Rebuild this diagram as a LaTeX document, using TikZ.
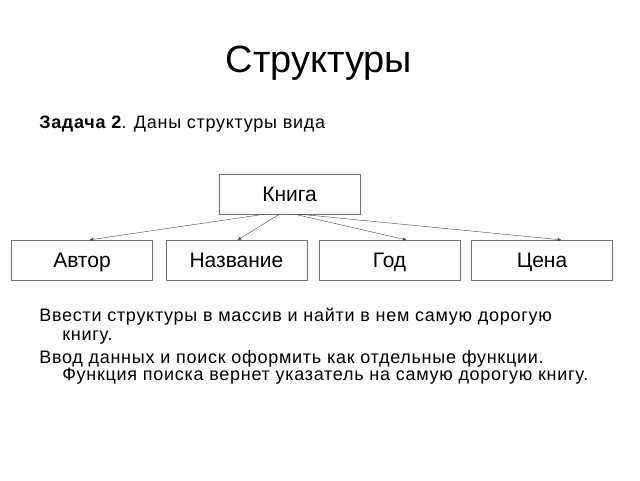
\documentclass[tikz,border=0pt]{standalone}
\usepackage{fontspec}
\setmainfont{Liberation Sans}
\newfontfamily\bodyfont[LetterSpace=4]{Liberation Sans}
\usepackage{tikz}
\usetikzlibrary{arrows}
\usetikzlibrary{shapes}

\begin{document}
\begin{tikzpicture}[->,>=stealth',x=1pt,y=-1pt,semithick]
\tikzstyle{field}=[draw=black!55,thin,rectangle,minimum width=141pt,minimum height=40pt,inner sep=0pt,
  text height=15pt,text depth=0pt,font=\fontsize{21}{24}\selectfont]
\tikzstyle{txt}=[anchor=base west,inner sep=0pt,font=\bodyfont\fontsize{18}{21}\selectfont]
\useasboundingbox (0,0) rectangle (640,480);
\path
node[inner sep=0pt,font=\fontsize{38}{42}\selectfont,anchor=base] (T) at (319,72) {Структуры}
node[txt] (Z) at (39,128) {\textbf{Задача 2}. Даны структуры вида}
node[field] (B) at (289.5,194) {Книга}
node[field] (B1) at (82,260) {Автор}
node[field] (B2) at (236.5,260) {Название}
node[field] (B3) at (389.5,260) {Год}
node[field] (B4) at (542,260) {Цена}
node[txt] (L1) at (39,321) {Ввести структуры в массив и найти в нем самую дорогую}
node[txt] (L2) at (62,340) {книгу.}
node[txt] (L3) at (39,363) {Ввод данных и поиск оформить как отдельные функции.}
node[txt] (L4) at (62,380) {Функция поиска вернет указатель на самую дорогую книгу.};

\draw[black!75,thin] ([xshift=-25pt]B.south) -- ([xshift=8pt]B1.north);
\draw[black!75,thin] ([xshift=-10pt]B.south) -- ([xshift=1.5pt]B2.north);
\draw[black!75,thin] ([xshift=5pt]B.south) -- ([xshift=16.5pt]B3.north);
\draw[black!75,thin] ([xshift=10pt]B.south) -- ([xshift=19pt]B4.north);
\end{tikzpicture}
\end{document}
